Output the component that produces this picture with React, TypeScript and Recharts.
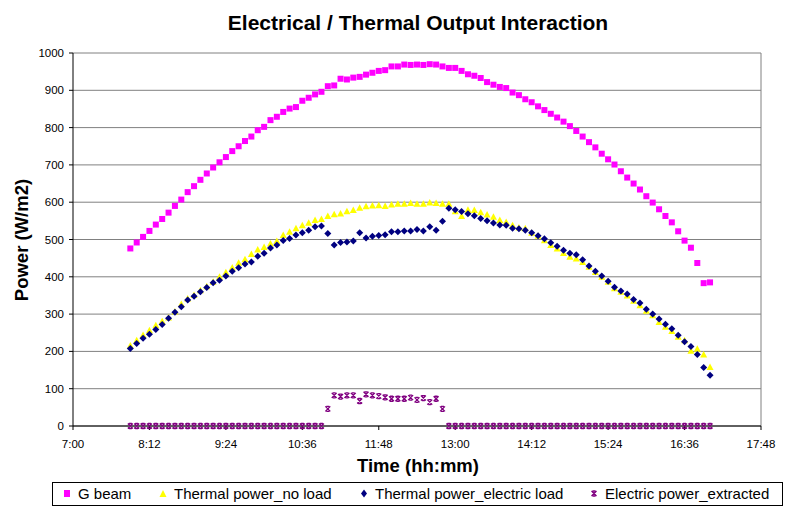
import React from "react";
import {
  ScatterChart,
  Scatter,
  XAxis,
  YAxis,
  CartesianGrid,
  ReferenceLine,
} from "recharts";

// sample times (every 6 min)
const times = [
  "7:54", "8:00", "8:06", "8:12", "8:18", "8:24", "8:30", "8:36", "8:42", "8:48",
  "8:54", "9:00", "9:06", "9:12", "9:18", "9:24", "9:30", "9:36", "9:42", "9:48",
  "9:54", "10:00", "10:06", "10:12", "10:18", "10:24", "10:30", "10:36", "10:42", "10:48",
  "10:54", "11:00", "11:06", "11:12", "11:18", "11:24", "11:30", "11:36", "11:42", "11:48",
  "11:54", "12:00", "12:06", "12:12", "12:18", "12:24", "12:30", "12:36", "12:42", "12:48",
  "12:54", "13:00", "13:06", "13:12", "13:18", "13:24", "13:30", "13:36", "13:42", "13:48",
  "13:54", "14:00", "14:06", "14:12", "14:18", "14:24", "14:30", "14:36", "14:42", "14:48",
  "14:54", "15:00", "15:06", "15:12", "15:18", "15:24", "15:30", "15:36", "15:42", "15:48",
  "15:54", "16:00", "16:06", "16:12", "16:18", "16:24", "16:30", "16:36", "16:42", "16:48",
  "16:54", "17:00",
];

const gBeam = [
  476, 492, 507, 523, 540, 555, 572, 590, 607, 627,
  643, 660, 677, 693, 707, 721, 737, 750, 764, 776,
  793, 802, 820, 829, 842, 851, 855, 872, 880, 889,
  896, 911, 913, 931, 929, 934, 936, 942, 947, 952,
  954, 964, 964, 969, 968, 969, 968, 970, 969, 964,
  960, 960, 952, 943, 939, 933, 922, 915, 909, 906,
  894, 887, 876, 868, 857, 847, 837, 827, 816, 804,
  791, 776, 761, 747, 730, 715, 701, 683, 666, 650,
  634, 616, 599, 581, 563, 546, 522, 497, 478, 437,
  383, 385,
];

const thermalNoLoad = [
  216, 230, 244, 257, 270, 281, 291, 307, 327, 342,
  351, 364, 375, 387, 400, 412, 425, 438, 447, 461,
  473, 480, 489, 496, 512, 521, 530, 538, 545, 552,
  555, 563, 568, 570, 576, 579, 585, 589, 591, 592,
  590, 594, 596, 596, 598, 596, 596, 599, 598, 596,
  596, 576, 563, 580, 579, 573, 567, 561, 552, 547,
  538, 532, 530, 518, 510, 498, 485, 476, 464, 454,
  449, 440, 427, 413, 400, 387, 369, 360, 350, 336,
  324, 309, 297, 279, 266, 255, 239, 230, 202, 207,
  192, 158,
];

const thermalElecLoad = [
  208, 221, 235, 246, 259, 272, 289, 305, 320, 338,
  348, 360, 371, 384, 391, 402, 415, 424, 434, 440,
  455, 463, 477, 485, 497, 503, 512, 518, 525, 534,
  536, 516, 485, 492, 493, 496, 518, 504, 509, 511,
  513, 521, 521, 523, 523, 527, 523, 534, 525, 549,
  584, 580, 575, 569, 564, 556, 550, 544, 539, 538,
  530, 529, 525, 518, 510, 502, 491, 482, 471, 463,
  459, 446, 429, 415, 402, 388, 372, 362, 354, 339,
  330, 313, 300, 287, 273, 261, 243, 226, 213, 192,
  157, 136,
];

const electricPower = [
  0, 0, 0, 0, 0, 0, 0, 0, 0, 0,
  0, 0, 0, 0, 0, 0, 0, 0, 0, 0,
  0, 0, 0, 0, 0, 0, 0, 0, 0, 0,
  0, 46, 82, 79, 82, 82, 67, 85, 82, 80,
  77, 73, 73, 73, 76, 70, 75, 64, 73, 46,
  0, 0, 0, 0, 0, 0, 0, 0, 0, 0,
  0, 0, 0, 0, 0, 0, 0, 0, 0, 0,
  0, 0, 0, 0, 0, 0, 0, 0, 0, 0,
  0, 0, 0, 0, 0, 0, 0, 0, 0, 0,
  0, 0,
];

const xTickLabels = ["7:00", "8:12", "9:24", "10:36", "11:48", "13:00", "14:12", "15:24", "16:36", "17:48"];
const yTicks = [0, 100, 200, 300, 400, 500, 600, 700, 800, 900, 1000];

const toMin = (s: string) => {
  const [h, m] = s.split(":").map(Number);
  return h * 60 + m;
};
const fmtTime = (v: number) => `${Math.floor(v / 60)}:${String(v % 60).padStart(2, "0")}`;

const series = (vals: number[]) => times.map((t, i) => ({ t: toMin(t), v: vals[i] }));

const FONT = "Arial, 'Liberation Sans', sans-serif";

const Square = (p: any) => (
  <rect x={p.cx - 3} y={p.cy - 3} width={6} height={6} fill="#FF00FF" />
);
const Triangle = (p: any) => (
  <polygon
    points={`${p.cx},${p.cy - 3.5} ${p.cx + 3.5},${p.cy + 3} ${p.cx - 3.5},${p.cy + 3}`}
    fill="#FFFF00"
  />
);
const Diamond = (p: any) => (
  <polygon
    points={`${p.cx},${p.cy - 3.5} ${p.cx + 3.5},${p.cy} ${p.cx},${p.cy + 3.5} ${p.cx - 3.5},${p.cy}`}
    fill="#000080"
  />
);
const Star = (p: any) => {
  const { cx, cy } = p;
  return (
    <path
      d={`M${cx - 2.5},${cy - 2.5}L${cx + 2.5},${cy + 2.5}M${cx + 2.5},${cy - 2.5}L${cx - 2.5},${cy + 2.5}M${cx - 1.5},${cy - 2.5}H${cx + 1.5}M${cx - 1.5},${cy + 2.5}H${cx + 1.5}`}
      stroke="#800080"
      strokeWidth={1.3}
      fill="none"
    />
  );
};

const legendItems = [
  { name: "G beam", x: 66, icon: <rect x={1} y={2} width={6} height={7} fill="#FF00FF" /> },
  { name: "Thermal power_no load", x: 162, icon: <polygon points="4,2 7.5,9 0.5,9" fill="#FFFF00" /> },
  { name: "Thermal power_electric load", x: 363, icon: <polygon points="4,1.5 7,5.5 4,9.5 1,5.5" fill="#000080" /> },
  { name: "Electric power_extracted", x: 593, icon: <Star cx={4} cy={5.5} /> },
];

const App = () => {
  return (
    <div style={{ position: "absolute", left: 0, top: 0, width: 787, height: 507, background: "#fff", fontFamily: FONT }}>
      <div style={{ position: "absolute", left: 418, top: 23, transform: "translate(-50%, -50%)", fontWeight: "bold", fontSize: 21, whiteSpace: "nowrap" }}>
        Electrical / Thermal Output Interaction
      </div>
      <div style={{ position: "absolute", left: 22, top: 240, transform: "translate(-50%, -50%) rotate(-90deg)", fontWeight: "bold", fontSize: 18.5, whiteSpace: "nowrap" }}>
        Power (W/m2)
      </div>
      <div style={{ position: "absolute", left: 418, top: 466, transform: "translate(-50%, -50%)", fontWeight: "bold", fontSize: 18.5, whiteSpace: "nowrap" }}>
        Time (hh:mm)
      </div>

      <ScatterChart width={787} height={507} margin={{ top: 53, right: 26, bottom: 51, left: 0 }}>
        <CartesianGrid horizontal vertical={false} stroke="#808080" />
        <XAxis
          type="number"
          dataKey="t"
          domain={[toMin("7:00"), toMin("17:48")]}
          ticks={xTickLabels.map(toMin)}
          tickFormatter={fmtTime}
          height={30}
          tickSize={4}
          tickMargin={10}
          stroke="#000"
          tick={{ fill: "#000", fontSize: 11.5, fontFamily: FONT }}
          interval={0}
        />
        <YAxis
          type="number"
          dataKey="v"
          domain={[0, 1000]}
          ticks={yTicks}
          width={73}
          tickSize={4}
          tickMargin={5}
          stroke="#000"
          tick={{ fill: "#000", fontSize: 11.5, fontFamily: FONT }}
          interval={0}
        />
        <ReferenceLine x={toMin("17:48")} stroke="#808080" />
        <Scatter name="G beam" data={series(gBeam)} shape={Square} isAnimationActive={false} />
        <Scatter name="Thermal power_no load" data={series(thermalNoLoad)} shape={Triangle} isAnimationActive={false} />
        <Scatter name="Thermal power_electric load" data={series(thermalElecLoad)} shape={Diamond} isAnimationActive={false} />
        <Scatter name="Electric power_extracted" data={series(electricPower)} shape={Star} isAnimationActive={false} />
      </ScatterChart>

      <div style={{ position: "absolute", left: 52, top: 482, width: 731, height: 24, border: "1px solid #000", boxSizing: "border-box" }}>
        {legendItems.map((it) => (
          <div key={it.name} style={{ position: "absolute", left: it.x - 52 - 4, top: 2, display: "flex", alignItems: "center", whiteSpace: "nowrap", fontSize: 15 }}>
            <svg width={9} height={11} style={{ marginRight: 6 }}>{it.icon}</svg>
            <span>{it.name}</span>
          </div>
        ))}
      </div>
    </div>
  );
};

export default App;
